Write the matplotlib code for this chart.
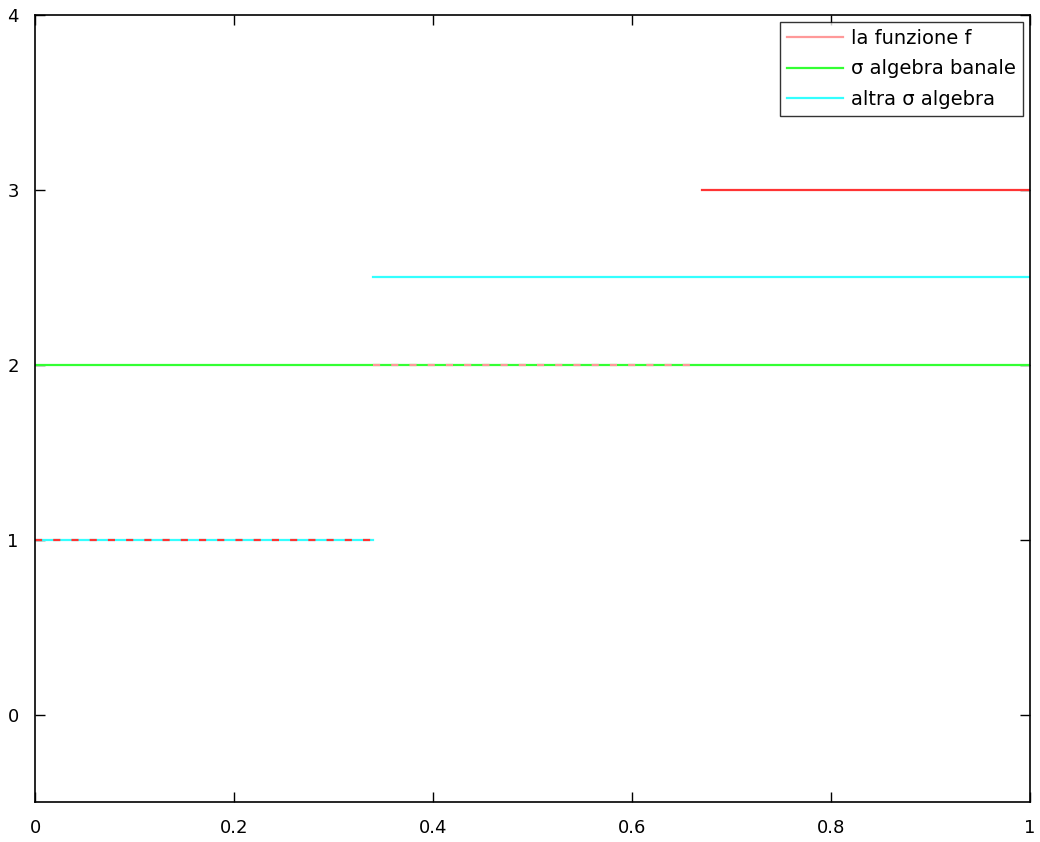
import matplotlib
matplotlib.use("Agg")
import matplotlib.pyplot as plt

# step function f and the two sigma algebras (piecewise constant on [0, 1])
f_x = [[0.0, 0.34], [0.34, 0.66], [0.67, 1.0]]
f_y = [1, 2, 3]

banale_x = [0.0, 1.0]
banale_y = 2

altra_x = [[0.0, 0.34], [0.34, 1.0]]
altra_y = [1, 2.5]

labels = ["la funzione f", "σ algebra banale", "altra σ algebra"]
xticks = [0, 0.2, 0.4, 0.6, 0.8, 1]
xticklabels = ["0", "0.2", "0.4", "0.6", "0.8", "1"]
yticks = [0, 1, 2, 3, 4]

fig = plt.figure(figsize=(10.4, 8.42), dpi=100)
ax = fig.add_axes([0.034, 0.0475, 0.956, 0.9345])

lw = 1.6
# green: trivial sigma algebra
g, = ax.plot(banale_x, [banale_y, banale_y], color="#33ff33", lw=lw)
# cyan: other sigma algebra
c = None
for xs, y in zip(altra_x, altra_y):
    c, = ax.plot(xs, [y, y], color="#33ffff", lw=lw)
# red: function f, dashed where it overlaps
for i, (xs, y) in enumerate(zip(f_x, f_y)):
    if i == 0:
        ax.plot(xs, [y, y], color="#ff3333", lw=lw, dashes=(3.2, 5))
    elif i == 1:
        ax.plot(xs, [y, y], color="#ff9999", lw=lw, dashes=(3.2, 5))
    else:
        ax.plot(xs, [y, y], color="#ff3333", lw=lw)

r_handle = plt.Line2D([], [], color="#ff9999", lw=lw)
leg = ax.legend([r_handle, g, c], labels, loc="upper right", fontsize=14,
                frameon=True, fancybox=False, edgecolor="black",
                handlelength=2.9, handletextpad=0.4, borderpad=0.35,
                labelspacing=0.6, borderaxespad=0.35)
leg.get_frame().set_linewidth(1.0)

ax.set_xlim(0, 1)
ax.set_ylim(-0.5, 4)
ax.set_xticks(xticks)
ax.set_xticklabels(xticklabels)
ax.set_yticks(yticks)
ax.tick_params(direction="in", top=True, right=True, length=7, width=1,
               labelsize=13, pad=12)
for s in ax.spines.values():
    s.set_linewidth(1.2)

fig.savefig("out.png", dpi=100)
